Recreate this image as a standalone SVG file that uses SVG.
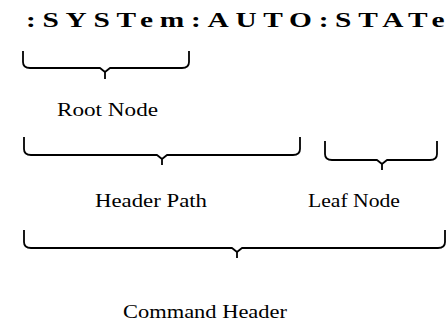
<svg xmlns="http://www.w3.org/2000/svg" width="447" height="323" viewBox="0 0 447 323">
<style>
.t{font-family:"Liberation Serif","Times New Roman",serif;font-weight:bold;font-size:21px;fill:#000}
.l{font-family:"Liberation Serif","Times New Roman",serif;font-size:19px;fill:#000}
.b{fill:none;stroke:#000;stroke-width:1.8;stroke-linejoin:round}
</style>
<rect width="447" height="323" fill="#fff"/>
<g id="title" transform="scale(1.4,1)"><text class="t" x="18.6" y="27" textLength="299" lengthAdjust="spacing">:SYSTem:AUTO:STATe</text></g>
<g id="connectors">
<path class="b" d="M23,51 V62 Q23,68 30,68 H100 L105,72 L110,68 H182 Q189,68 189,62 V51 M105,72 V79"/>
<path class="b" d="M24,137 V149 Q24,155 31,155 H157 L162,159 L167,155 H293 Q300,155 300,149 V137 M162,159 V165"/>
<path class="b" d="M325,141 V154 Q325,160 332,160 H377 L382,164 L387,160 H430 Q437,160 437,154 V141 M382,164 V170"/>
<path class="b" d="M24,230 V242 Q24,248 31,248 H232 L237,252 L242,248 H438 Q445,248 445,242 V230 M237,252 V258"/>
</g>
<g id="root-node"><text class="l" x="57" y="116" textLength="101" lengthAdjust="spacingAndGlyphs">Root Node</text></g>
<g id="header-path"><text class="l" x="95" y="207" textLength="112" lengthAdjust="spacingAndGlyphs">Header Path</text></g>
<g id="leaf-node"><text class="l" x="308" y="207" textLength="92" lengthAdjust="spacingAndGlyphs">Leaf Node</text></g>
<g id="command-header"><text class="l" x="123" y="318" textLength="164" lengthAdjust="spacingAndGlyphs">Command Header</text></g>
</svg>
